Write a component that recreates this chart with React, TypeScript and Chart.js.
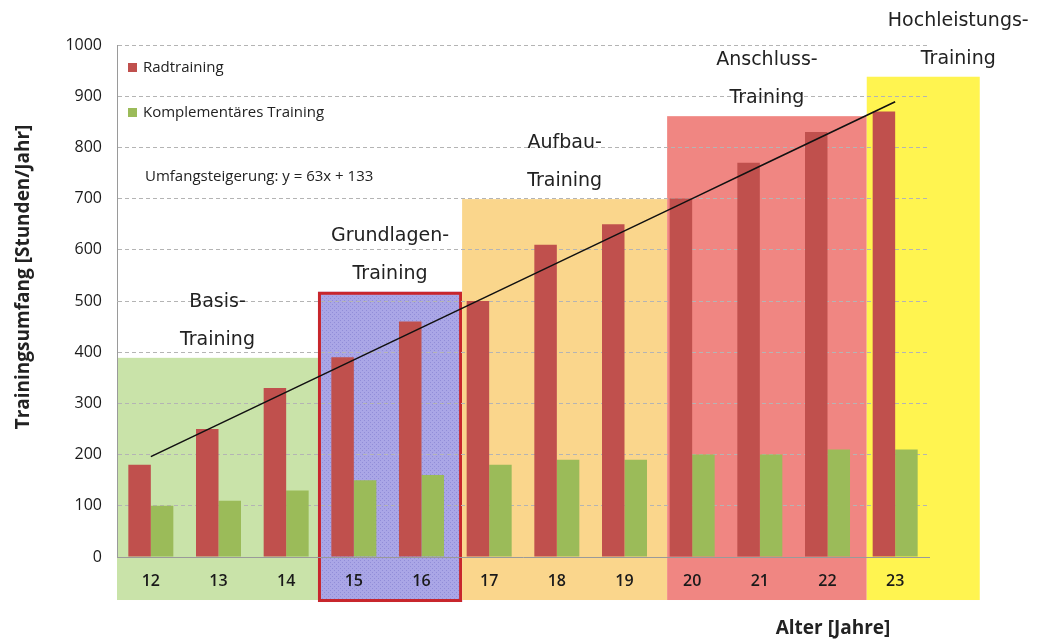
import React, { useEffect, useRef } from "react";
import { Chart, registerables } from "chart.js";

Chart.register(...registerables);

// ---- data ----
const ages = ["12", "13", "14", "15", "16", "17", "18", "19", "20", "21", "22", "23"];
const radtraining = [180, 250, 330, 390, 460, 500, 610, 650, 700, 770, 830, 870];
const komplementaer = [100, 110, 130, 150, 160, 180, 190, 190, 200, 200, 210, 210];
// Trendline y = 63x + 133 (x = 1..12)
const trend = [196, 259, 322, 385, 448, 511, 574, 637, 700, 763, 826, 889];
const yMax = 1000;
const yStep = 100;

const seriesNames = ["Radtraining", "Komplementäres Training"];
const trendText = "Umfangsteigerung: y = 63x + 133";
const yTitle = "Trainingsumfang [Stunden/Jahr]";
const xTitle = "Alter [Jahre]";

// training phases (category index range, top value)
const phaseNames = [
  ["Basis-", "Training"],
  ["Grundlagen-", "Training"],
  ["Aufbau-", "Training"],
  ["Anschluss-", "Training"],
  ["Hochleistungs-", "Training"],
];
const phaseFrom = [-0.5, 2.47, 4.6, 7.63, 10.58];
const phaseTo = [2.47, 4.6, 7.63, 10.58, 12.25];
const phaseTop = [389, 518, 699, 861, 938];
const phaseBottom = -84;

const RED = "#c0504d";
const GREEN = "#9bbb59";
const phaseColors = ["#c9e3a9", "PATTERN", "#fad68c", "#f08682", "#fff450"];

const TICK_FONT = "'Open Sans', 'DejaVu Sans', sans-serif";
const PHASE_FONT = "'DejaVu Sans', sans-serif";

function makePattern(ctx: CanvasRenderingContext2D) {
  const c = document.createElement("canvas");
  c.width = 4;
  c.height = 4;
  const p = c.getContext("2d")!;
  p.fillStyle = "#aaa6e6";
  p.fillRect(0, 0, 4, 4);
  p.fillStyle = "#918dd8";
  p.fillRect(0, 0, 1, 1);
  p.fillRect(2, 2, 1, 1);
  return ctx.createPattern(c, "repeat");
}

const phasePlugin = {
  id: "phases",
  beforeDraw(chart: any) {
    const { ctx, scales } = chart;
    const x = scales.x;
    const y = scales.y;
    ctx.save();
    for (let i = 0; i < phaseFrom.length; i++) {
      const x0 = x.getPixelForValue(phaseFrom[i]);
      const x1 = x.getPixelForValue(phaseTo[i]);
      const y0 = y.getPixelForValue(phaseTop[i]);
      const y1 = y.getPixelForValue(phaseBottom);
      if (phaseColors[i] === "PATTERN") {
        ctx.fillStyle = makePattern(ctx) || "#aaa6e6";
        ctx.fillRect(x0, y0, x1 - x0, y1 - y0 + 2);
        ctx.strokeStyle = "#c8262c";
        ctx.lineWidth = 3;
        ctx.strokeRect(x0 + 1.5, y0 + 1.5, x1 - x0 - 3, y1 - y0 - 1);
      } else {
        ctx.fillStyle = phaseColors[i];
        ctx.fillRect(x0, y0, x1 - x0, y1 - y0);
      }
    }
    ctx.restore();
  },
  afterDraw(chart: any) {
    const { ctx, scales } = chart;
    const x = scales.x;
    const y = scales.y;
    ctx.save();
    // phase labels
    ctx.fillStyle = "#222";
    ctx.font = `19px ${PHASE_FONT}`;
    ctx.textAlign = "center";
    ctx.textBaseline = "middle";
    for (let i = 0; i < phaseFrom.length; i++) {
      const x0 = x.getPixelForValue(phaseFrom[i]);
      const x1 = x.getPixelForValue(phaseTo[i]);
      const top = y.getPixelForValue(phaseTop[i]);
      const cx = (x0 + x1) / 2 + (i === 4 ? 35 : 0);
      ctx.fillText(phaseNames[i][0], cx, top - 56);
      ctx.fillText(phaseNames[i][1], cx, top - 18);
    }
    // legend
    const lx = x.left + 11;
    const ly = [68, 113];
    const cols = [RED, GREEN];
    ctx.textAlign = "left";
    ctx.font = `15px ${TICK_FONT}`;
    for (let i = 0; i < 2; i++) {
      ctx.fillStyle = cols[i];
      ctx.fillRect(lx, ly[i] - 5, 9, 9);
      ctx.fillStyle = "#222";
      ctx.fillText(seriesNames[i], lx + 15, ly[i]);
    }
    ctx.fillText(trendText, lx + 17, 177);
    // axis titles
    ctx.font = `bold 19px ${TICK_FONT}`;
    ctx.textAlign = "center";
    ctx.fillText(xTitle, 833, 629);
    ctx.translate(24, 277);
    ctx.rotate(-Math.PI / 2);
    ctx.fillText(yTitle, 0, 0);
    ctx.restore();
  },
};

function App() {
  const ref = useRef<HTMLCanvasElement | null>(null);
  useEffect(() => {
    if (!ref.current) return;
    const chart = new Chart(ref.current, {
      type: "bar",
      data: {
        labels: ages,
        datasets: [
          {
            type: "line",
            label: "Trend",
            data: trend,
            borderColor: "#111",
            borderWidth: 1.6,
            pointRadius: 0,
            fill: false,
            order: 0,
          } as any,
          {
            label: seriesNames[0],
            data: radtraining,
            backgroundColor: RED,
            categoryPercentage: 0.665,
            barPercentage: 1,
            order: 1,
          },
          {
            label: seriesNames[1],
            data: komplementaer,
            backgroundColor: GREEN,
            categoryPercentage: 0.665,
            barPercentage: 1,
            order: 1,
          },
        ],
      },
      options: {
        responsive: false,
        animation: false,
        layout: { padding: { left: 0, top: 45, right: 113, bottom: 0 } },
        plugins: { legend: { display: false }, tooltip: { enabled: false } },
        scales: {
          x: {
            grid: { display: false, drawTicks: false },
            border: { display: true, color: "#9a9a9a", width: 1 },
            ticks: {
              padding: 15,
              color: "#1a1a1a",
              font: { family: TICK_FONT, size: 16, weight: "600" },
            },
            afterFit: (s: any) => {
              s.height = 84;
            },
          },
          y: {
            min: 0,
            max: yMax,
            ticks: {
              stepSize: yStep,
              padding: 15,
              color: "#1a1a1a",
              font: { family: TICK_FONT, size: 16 },
              callback: (v: any) => String(v),
            },
            grid: { color: "#b4b4b4", drawTicks: false },
            border: { display: true, color: "#9a9a9a", dash: [4, 3] },
            afterFit: (s: any) => {
              s.width = 117;
            },
          },
        },
      } as any,
      plugins: [phasePlugin],
    });
    return () => chart.destroy();
  }, []);
  return (
    <div style={{ position: "fixed", left: 0, top: 0, width: 1042, height: 641, background: "#fff" }}>
      <canvas ref={ref} width={1042} height={641} style={{ display: "block" }} />
    </div>
  );
}

export default App;
